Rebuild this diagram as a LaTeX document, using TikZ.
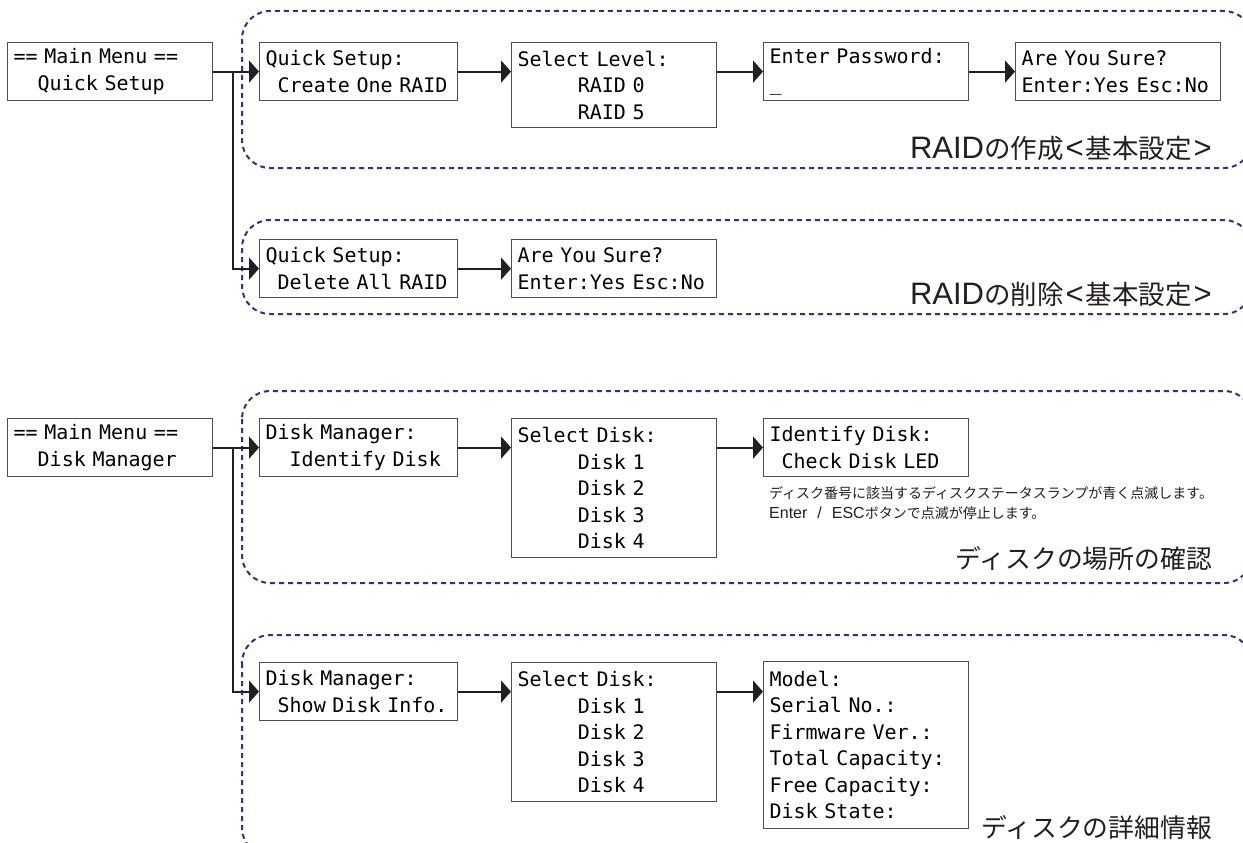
\documentclass[tikz,border=0pt]{standalone}
\usepackage{fontspec}
\setmonofont{DejaVu Sans Mono}
\newfontfamily\jpfont{Noto Sans CJK JP}
\newfontfamily\latfont{Liberation Sans}
\usetikzlibrary{arrows.meta,calc}

\definecolor{framecol}{RGB}{46,49,146}
\definecolor{inkcol}{RGB}{35,31,32}
\newcommand\lcdfont{\ttfamily\fontsize{20}{26.5}\selectfont}
\newcommand\pad[1]{\phantom{#1}}
% Latin parts of the group titles are set in a larger sans
\newcommand\bigLat[1]{{\latfont\fontsize{31}{34}\selectfont #1}}
\newcommand\noteLat[1]{{\latfont\fontsize{16}{20}\selectfont #1}}

\tikzset{
  lcd/.style={draw=inkcol!80, line width=1.2pt, inner xsep=6pt, inner ysep=0pt,
    align=left, font=\lcdfont, anchor=north west},
  wide/.style={text width=193pt},
  narrow/.style={text width=186pt},
  h2/.style={minimum height=58pt},
  h3/.style={minimum height=85pt},
  h5/.style={minimum height=139pt},
  h6/.style={minimum height=167pt},
  arr/.style={draw=inkcol, line width=2pt, -{Triangle[length=10pt,width=22pt]}},
  frame/.style={draw=framecol, line width=2pt, dash pattern=on 5pt off 4pt,
    rounded corners=28pt},
  title/.style={font=\jpfont\fontsize{26.5}{30}\selectfont, text=inkcol,
    inner sep=0pt, anchor=base east},
  title2/.style={title, font=\jpfont\fontsize{25.8}{30}\selectfont},
  note/.style={font=\jpfont\fontsize{14}{20}\selectfont, text=inkcol,
    inner sep=0pt, anchor=north west, align=left}
}

\begin{document}
\begin{tikzpicture}[x=1pt,y=-1pt]
\useasboundingbox (0,0) rectangle (1243,843);
\fill[white] (0,0) rectangle (1243,843);

% dashed group frames
\draw[frame] (242,11) rectangle (1252,168);
\draw[frame] (242,220) rectangle (1252,314);
\draw[frame] (242,391) rectangle (1252,583);
\draw[frame] (242,635) rectangle (1252,856);

% --- Quick Setup menu ---
\node[lcd,wide,h2]   (m1) at (7,42)    {==~Main~Menu~==\\\pad{xx}Quick~Setup};
\node[lcd,narrow,h2] (c1) at (259,42)  {Quick~Setup:\\\pad{x}Create~One~RAID};
\node[lcd,wide,h3]   (c2) at (511,42)  {Select~Level:\\\pad{xxxxx}RAID~0\\\pad{xxxxx}RAID~5};
\node[lcd,wide,h2]   (c3) at (763,42)  {Enter~Password:\\\_};
\node[lcd,wide,h2]   (c4) at (1015,42) {Are~You~Sure?\\Enter:Yes~Esc:No};
\node[lcd,narrow,h2] (d1) at (259,239) {Quick~Setup:\\\pad{x}Delete~All~RAID};
\node[lcd,wide,h2]   (d2) at (511,239) {Are~You~Sure?\\Enter:Yes~Esc:No};

\node[title] (t1) at (1212,158) {\bigLat{RAID}の作成\bigLat{\hspace{2pt}<\hspace{2pt}}基本設定\bigLat{\hspace{2pt}>}};
\node[title] (t2) at (1212,304) {\bigLat{RAID}の削除\bigLat{\hspace{2pt}<\hspace{2pt}}基本設定\bigLat{\hspace{2pt}>}};

\coordinate (j1) at ($(m1.east)!0.43!(c1.west)$);
\draw[arr] (m1.east) -- (c1.west);
\draw[arr] (c1.east) -- (c2.west |- c1.east);
\draw[arr] (c2.east |- c3.west) -- (c3.west);
\draw[arr] (c3.east) -- (c4.west);
\draw[arr] (j1) |- (d1.west);
\draw[arr] (d1.east) -- (d2.west);

% --- Disk Manager menu ---
\node[lcd,wide,h2]   (m2) at (7,418)   {==~Main~Menu~==\\\pad{xx}Disk~Manager};
\node[lcd,narrow,h2] (e1) at (259,418) {Disk~Manager:\\\pad{xx}Identify~Disk};
\node[lcd,wide,h5]   (e2) at (511,418) {Select~Disk:\\\pad{xxxxx}Disk~1\\\pad{xxxxx}Disk~2\\\pad{xxxxx}Disk~3\\\pad{xxxxx}Disk~4};
\node[lcd,wide,h2]   (e3) at (763,418) {Identify~Disk:\\\pad{x}Check~Disk~LED};
\node[lcd,narrow,h2] (f1) at (259,662) {Disk~Manager:\\\pad{x}Show~Disk~Info.};
\node[lcd,wide,h5]   (f2) at (511,662) {Select~Disk:\\\pad{xxxxx}Disk~1\\\pad{xxxxx}Disk~2\\\pad{xxxxx}Disk~3\\\pad{xxxxx}Disk~4};
\node[lcd,wide,h6]   (f3) at (763,661) {Model:\\Serial~No.:\\Firmware~Ver.:\\Total~Capacity:\\Free~Capacity:\\Disk~State:};

\node[note] (n1) at (769,486) {ディスク番号に該当するディスクステータスランプが青く点滅します。\\\noteLat{Enter\hspace{10pt}/\hspace{10pt}ESC}ボタンで点滅が停止します。};
\node[title2] (t3) at (1212,568) {ディスクの場所の確認};
\node[title2] (t4) at (1212,837) {ディスクの詳細情報};

\coordinate (j2) at ($(m2.east)!0.43!(e1.west)$);
\draw[arr] (m2.east) -- (e1.west);
\draw[arr] (e1.east) -- (e2.west |- e1.east);
\draw[arr] (e2.east |- e3.west) -- (e3.west);
\draw[arr] (j2) |- (f1.west);
\draw[arr] (f1.east) -- (f2.west |- f1.east);
\draw[arr] (f2.east |- f1.east) -- (f3.west |- f1.east);
\end{tikzpicture}
\end{document}
